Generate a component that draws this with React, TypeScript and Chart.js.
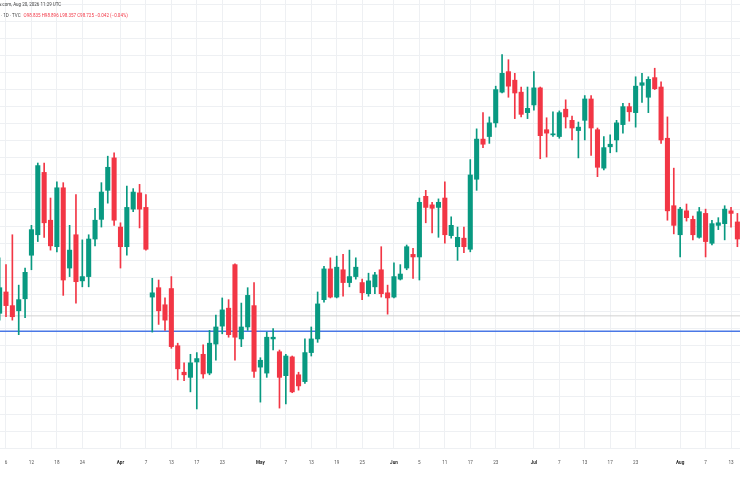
import React, { useEffect, useRef } from 'react';
import { Chart, registerables } from 'chart.js';

Chart.register(...registerables);

// Trading days (weekdays) from Mar 5 to Aug 14, 2026
const MONTHS = ['Jan', 'Feb', 'Mar', 'Apr', 'May', 'Jun', 'Jul', 'Aug', 'Sep', 'Oct', 'Nov', 'Dec'];
const tradingDays: string[] = (() => {
  const out: string[] = [];
  const d = new Date(Date.UTC(2026, 2, 5));
  const end = new Date(Date.UTC(2026, 7, 14));
  while (d <= end) {
    const wd = d.getUTCDay();
    if (wd !== 0 && wd !== 6) out.push(MONTHS[d.getUTCMonth()] + ' ' + d.getUTCDate());
    d.setUTCDate(d.getUTCDate() + 1);
  }
  return out;
})();

const opens = [
  98.78, 99.03, 98.87, 98.81, 98.95, 99.46, 99.70, 100.43, 99.87, 99.56,
  100.25, 99.31, 99.70, 99.16, 99.21, 99.65, 99.88, 100.22, 100.60, 99.79,
  99.56, 100.00, 100.19, 100.02, 98.97, 99.08, 98.88, 99.07, 98.40, 98.09,
  98.03, 98.21, 98.30, 98.08, 98.42, 98.63, 98.84, 99.35, 98.48, 98.62,
  98.87, 98.15, 98.08, 98.48, 98.33, 98.05, 98.27, 98.06, 97.98, 98.32,
  98.48, 98.94, 99.30, 98.97, 99.29, 99.14, 99.21, 99.14, 99.01, 99.09,
  99.29, 99.02, 98.97, 99.18, 99.31, 99.47, 99.44, 100.15, 100.05, 100.02,
  100.13, 99.69, 99.56, 99.66, 99.53, 100.35, 100.82, 100.85, 101.01, 101.37,
  101.61, 101.51, 101.37, 101.13, 101.22, 101.42, 100.93, 100.87, 100.85, 101.17,
  101.04, 100.92, 101.04, 101.29, 100.93, 100.48, 100.73, 100.81, 100.99, 101.20,
  101.13, 101.45, 101.31, 101.54, 101.43, 100.83, 100.04, 99.70, 99.98, 99.88,
  99.67, 99.95, 99.60, 99.81, 99.83, 99.98, 99.85,
];
const highs = [
  99.43, 99.35, 99.70, 99.11, 99.31, 99.81, 100.54, 100.54, 100.13, 100.32,
  100.31, 99.81, 100.17, 99.64, 99.70, 100.01, 100.31, 100.62, 100.66, 99.84,
  100.27, 100.24, 100.29, 100.17, 99.19, 99.17, 98.96, 99.21, 98.43, 98.20,
  98.30, 98.32, 98.41, 98.58, 98.76, 98.96, 98.94, 99.36, 98.90, 99.08,
  99.14, 98.26, 98.56, 98.60, 98.35, 98.30, 98.28, 98.09, 98.48, 98.62,
  99.03, 99.33, 99.43, 99.45, 99.47, 99.52, 99.43, 99.18, 99.25, 99.26,
  99.56, 99.11, 99.37, 99.35, 99.58, 99.54, 100.13, 100.22, 100.08, 100.12,
  100.32, 99.91, 99.79, 99.79, 100.58, 100.94, 101.13, 101.08, 101.44, 101.81,
  101.75, 101.59, 101.43, 101.43, 101.61, 101.43, 101.07, 101.14, 101.15, 101.28,
  101.09, 101.02, 101.33, 101.33, 100.95, 100.85, 100.87, 101.04, 101.24, 101.24,
  101.55, 101.59, 101.55, 101.65, 101.49, 101.08, 100.48, 100.02, 100.06, 99.92,
  100.02, 100.00, 99.87, 99.90, 100.04, 100.02, 99.95,
];
const lows = [
  98.70, 98.74, 98.70, 98.53, 98.73, 99.29, 99.62, 99.67, 99.52, 99.50,
  98.99, 99.21, 98.90, 99.09, 99.09, 99.57, 99.79, 100.07, 99.81, 99.31,
  99.46, 99.97, 99.78, 99.52, 98.56, 98.65, 98.58, 98.37, 98.00, 97.99,
  97.86, 97.66, 98.02, 98.06, 98.23, 98.54, 98.50, 98.23, 98.39, 98.58,
  98.03, 97.74, 98.03, 98.35, 97.67, 97.72, 97.85, 97.88, 97.96, 98.28,
  98.44, 98.91, 98.96, 98.96, 98.98, 99.09, 99.18, 98.94, 98.98, 99.01,
  98.97, 98.77, 98.96, 99.17, 99.29, 99.19, 99.17, 99.84, 99.72, 99.67,
  99.60, 99.66, 99.40, 99.49, 99.50, 100.22, 100.72, 100.77, 100.96, 101.36,
  101.31, 101.06, 101.08, 101.06, 101.16, 100.59, 100.61, 100.85, 100.83, 100.95,
  100.81, 100.60, 100.81, 100.63, 100.38, 100.46, 100.66, 100.67, 100.89, 101.03,
  100.96, 101.25, 101.13, 101.40, 100.77, 99.87, 99.71, 99.44, 99.86, 99.64,
  99.66, 99.44, 99.58, 99.76, 99.64, 99.79, 99.56,
];
const closes = [
  99.08, 98.87, 98.74, 98.94, 99.26, 99.76, 100.51, 99.84, 99.57, 100.25,
  99.17, 99.52, 99.15, 99.21, 99.65, 99.87, 100.20, 100.49, 99.87, 99.56,
  100.02, 100.20, 100.00, 99.53, 99.02, 98.81, 98.70, 98.39, 98.13, 98.06,
  98.20, 98.25, 98.07, 98.43, 98.62, 98.82, 98.53, 98.50, 98.62, 98.99,
  98.10, 98.23, 98.50, 98.50, 98.03, 98.28, 97.86, 97.93, 98.32, 98.48,
  98.89, 99.30, 98.97, 99.32, 99.14, 99.21, 99.32, 99.02, 99.16, 99.23,
  99.01, 98.96, 99.21, 99.24, 99.56, 99.44, 100.08, 100.02, 100.01, 100.08,
  99.70, 99.81, 99.67, 99.56, 100.40, 100.82, 100.76, 101.01, 101.40, 101.59,
  101.44, 101.36, 101.11, 101.18, 101.42, 100.86, 100.89, 100.88, 101.13, 101.08,
  100.95, 100.96, 101.29, 100.95, 100.49, 100.72, 100.76, 101.01, 101.20, 101.14,
  101.44, 101.48, 101.52, 101.41, 100.81, 99.98, 99.81, 100.00, 99.90, 99.70,
  99.97, 99.62, 99.83, 99.84, 100.00, 99.95, 99.65,
];

// Time-axis tick labels
const tickDates = [
  'Mar 6', 'Mar 12', 'Mar 18', 'Mar 24', 'Apr 1', 'Apr 7', 'Apr 13', 'Apr 17', 'Apr 23',
  'May 1', 'May 7', 'May 13', 'May 19', 'May 25', 'Jun 1', 'Jun 5', 'Jun 11', 'Jun 17', 'Jun 23',
  'Jul 1', 'Jul 7', 'Jul 13', 'Jul 17', 'Jul 23', 'Aug 3', 'Aug 7', 'Aug 13',
];
const tickLabels = [
  '6', '12', '18', '24', 'Apr', '7', '13', '17', '23',
  'May', '7', '13', '19', '25', 'Jun', '5', '11', '17', '23',
  'Jul', '7', '13', '17', '23', 'Aug', '7', '13',
];

// Horizontal reference levels
const supportLevel = 98.57;
const lastPriceLevel = 98.75;

// Header legend
const headerLine1 = 'w.com, Aug 20, 2026 11:29 UTC';
const headerSymbol = '· 1D · TVC';
const headerValues = 'O98.835 H98.896 L98.357 C98.725 −0.042 (−0.04%)';

const UP = '#089981';
const DOWN = '#F23645';

const X_MIN = 0.057;
const X_MAX = 116.41;
const Y_MIN = 97.191;
const Y_MAX = 102.449;

export default function App() {
  const ref = useRef<HTMLCanvasElement | null>(null);

  useEffect(() => {
    if (!ref.current) return;
    const tickIdx = tickDates.map((d) => tradingDays.indexOf(d));
    const labelFor = (v: number) => {
      const k = tickIdx.indexOf(Math.round(v));
      return k >= 0 ? tickLabels[k] : '';
    };
    const isMonth = (s: string) => /^[A-Za-z]/.test(s);
    const colors = tradingDays.map((_, i) => (closes[i] >= opens[i] ? UP : DOWN));

    const chart = new Chart(ref.current, {
      type: 'bar',
      data: {
        datasets: [
          {
            type: 'bar',
            label: 'body',
            data: tradingDays.map((_, i) => ({ x: i, y: [opens[i], closes[i]] })) as any,
            backgroundColor: colors,
            borderWidth: 0,
            barThickness: 4.4,
            minBarLength: 1,
            grouped: false,
            order: 0,
          } as any,
          {
            type: 'bar',
            label: 'wick',
            data: tradingDays.map((_, i) => ({ x: i, y: [lows[i], highs[i]] })) as any,
            backgroundColor: colors,
            borderWidth: 0,
            barThickness: 1,
            grouped: false,
            order: 1,
          } as any,
          {
            type: 'line',
            label: 'support',
            data: [
              { x: X_MIN, y: supportLevel },
              { x: X_MAX, y: supportLevel },
            ],
            borderColor: '#4a78e6',
            borderWidth: 1.3,
            pointRadius: 0,
            order: 2,
          } as any,
          {
            type: 'line',
            label: 'last',
            data: [
              { x: X_MIN, y: lastPriceLevel },
              { x: X_MAX, y: lastPriceLevel },
            ],
            borderColor: '#d2d2d2',
            borderWidth: 1,
            pointRadius: 0,
            order: 3,
          } as any,
        ],
      },
      options: {
        animation: false,
        responsive: false,
        maintainAspectRatio: false,
        layout: { autoPadding: false, padding: 0 },
        plugins: { legend: { display: false }, tooltip: { enabled: false }, title: { display: false } },
        scales: {
          x: {
            type: 'linear',
            min: X_MIN,
            max: X_MAX,
            offset: false,
            grid: { offset: false, color: '#eef0f3', lineWidth: 1, drawTicks: false },
            border: { display: false },
            afterBuildTicks: (scale: any) => {
              scale.ticks = tickIdx.map((v) => ({ value: v }));
            },
            afterFit: (scale: any) => {
              scale.height = 43;
              scale.paddingLeft = 0;
              scale.paddingRight = 0;
            },
            ticks: {
              autoSkip: false,
              maxRotation: 0,
              minRotation: 0,
              padding: 11.2,
              callback: (v: any) => labelFor(Number(v)),
              color: (ctx: any) => (isMonth(labelFor(ctx.tick?.value ?? 0)) ? '#2a2a2a' : '#555555'),
              font: (ctx: any) => ({
                family: 'Roboto, "Noto Sans", sans-serif',
                size: 4.6,
                weight: isMonth(labelFor(ctx.tick?.value ?? 0)) ? 'bold' : 'normal',
              }),
            },
          } as any,
          y: {
            type: 'linear',
            min: Y_MIN,
            max: Y_MAX,
            beginAtZero: false,
            afterBuildTicks: (scale: any) => {
              const t: { value: number }[] = [];
              for (let k = 0; k <= 26; k++) t.push({ value: Math.round((97.2 + k * 0.2) * 100) / 100 });
              scale.ticks = t;
            },
            afterFit: (scale: any) => {
              scale.width = 0;
            },
            grid: { color: '#eef0f3', lineWidth: 1, drawTicks: false },
            border: { display: false },
            ticks: { display: false, padding: 0 },
          } as any,
        },
      },
    });
    return () => chart.destroy();
  }, []);

  const textBase: React.CSSProperties = {
    position: 'absolute',
    whiteSpace: 'nowrap',
    fontFamily: 'Roboto, "Noto Sans", sans-serif',
    fontSize: '4.5px',
    lineHeight: '4.5px',
  };

  return (
    <div style={{ position: 'absolute', left: 0, top: 0, width: 740, height: 492, background: '#ffffff', overflow: 'hidden' }}>
      <canvas ref={ref} width={740} height={492} style={{ display: 'block', width: 740, height: 492 }} />
      <div style={{ ...textBase, left: -2, top: 3.3, color: '#444444' }}>{headerLine1}</div>
      <div style={{ ...textBase, left: 1, top: 13.5, color: '#444444' }}>
        {headerSymbol}
        <span style={{ color: '#F23645', marginLeft: 3 }}>{headerValues}</span>
      </div>
    </div>
  );
}
